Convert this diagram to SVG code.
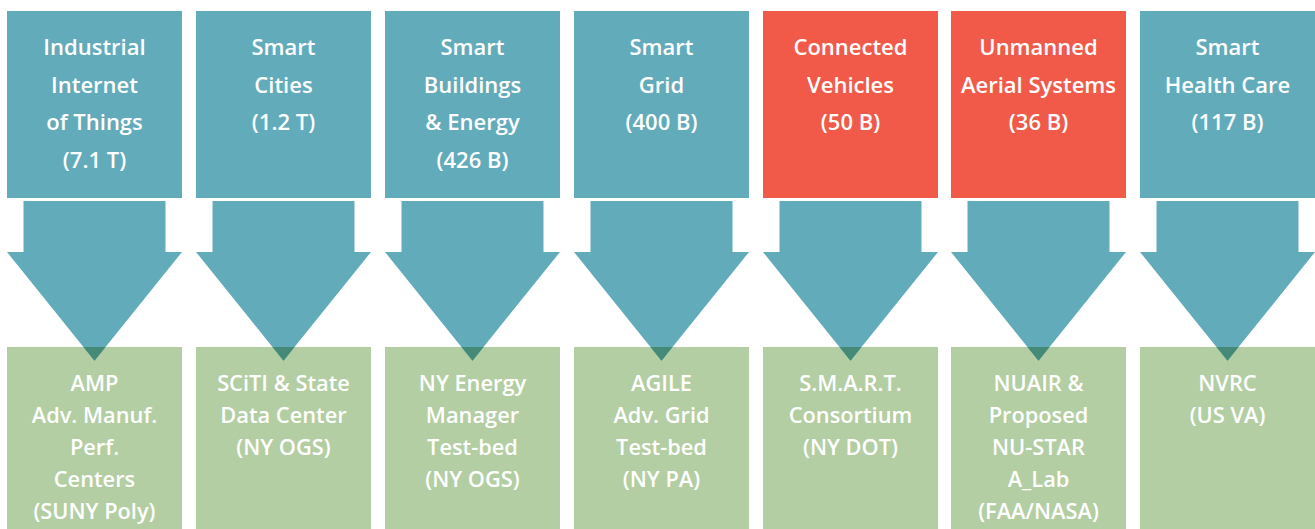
<svg xmlns="http://www.w3.org/2000/svg" width="1315" height="529" viewBox="0 0 1315 529">
<style>
.bg{fill:#ffffff}
.teal{fill:#62abbb}
.red{fill:#f15a48}
.green{fill:#b3cea2}
.arrow{fill:#62abbb}
.overlap{fill:#448a77}
.t{font-family:"Open Sans","Liberation Sans",sans-serif;font-weight:600;fill:#ffffff;text-anchor:middle}
.top{font-size:22px}
.bot{font-size:21.8px}
</style>
<rect class="bg" x="0" y="0" width="1315" height="529"/>
<defs>
<path id="arr" d="M16.5,201 H158.5 V252 H175 L87.5,360.7 L0,252 H16.5 Z"/>
<path id="ov" d="M76.5,347 H98.5 L87.5,360.7 Z"/>
</defs>

<g id="market-iiot">
<rect class="teal" x="7" y="11" width="175" height="187"/>
<text class="t top" x="94.5" y="55">Industrial</text>
<text class="t top" x="94.5" y="92.5">Internet</text>
<text class="t top" x="94.5" y="130">of Things</text>
<text class="t top" x="94.5" y="167.5">(7.1 T)</text>
</g>
<g id="market-cities">
<rect class="teal" x="196" y="11" width="175" height="187"/>
<text class="t top" x="283.5" y="55">Smart</text>
<text class="t top" x="283.5" y="92.5">Cities</text>
<text class="t top" x="283.5" y="130">(1.2 T)</text>
</g>
<g id="market-buildings">
<rect class="teal" x="385" y="11" width="175" height="187"/>
<text class="t top" x="472.5" y="55">Smart</text>
<text class="t top" x="472.5" y="92.5">Buildings</text>
<text class="t top" x="472.5" y="130">&amp; Energy</text>
<text class="t top" x="472.5" y="167.5">(426 B)</text>
</g>
<g id="market-grid">
<rect class="teal" x="574" y="11" width="175" height="187"/>
<text class="t top" x="661.5" y="55">Smart</text>
<text class="t top" x="661.5" y="92.5">Grid</text>
<text class="t top" x="661.5" y="130">(400 B)</text>
</g>
<g id="market-vehicles">
<rect class="red" x="763" y="11" width="175" height="187"/>
<text class="t top" x="850.5" y="55">Connected</text>
<text class="t top" x="850.5" y="92.5">Vehicles</text>
<text class="t top" x="850.5" y="130">(50 B)</text>
</g>
<g id="market-uas">
<rect class="red" x="951" y="11" width="175" height="187"/>
<text class="t top" x="1038.5" y="55">Unmanned</text>
<text class="t top" x="1038.5" y="92.5">Aerial Systems</text>
<text class="t top" x="1038.5" y="130">(36 B)</text>
</g>
<g id="market-health">
<rect class="teal" x="1140" y="11" width="175" height="187"/>
<text class="t top" x="1227.5" y="55">Smart</text>
<text class="t top" x="1227.5" y="92.5">Health Care</text>
<text class="t top" x="1227.5" y="130">(117 B)</text>
</g>

<g id="center-amp">
<rect class="green" x="7" y="347" width="175" height="182"/>
<text class="t bot" x="94.5" y="391">AMP</text>
<text class="t bot" x="94.5" y="423">Adv. Manuf.</text>
<text class="t bot" x="94.5" y="455">Perf.</text>
<text class="t bot" x="94.5" y="487">Centers</text>
<text class="t bot" x="94.5" y="519">(SUNY Poly)</text>
</g>
<g id="center-sciti">
<rect class="green" x="196" y="347" width="175" height="182"/>
<text class="t bot" x="283.5" y="391">SCiTI &amp; State</text>
<text class="t bot" x="283.5" y="423">Data Center</text>
<text class="t bot" x="283.5" y="455">(NY OGS)</text>
</g>
<g id="center-energy">
<rect class="green" x="385" y="347" width="175" height="182"/>
<text class="t bot" x="472.5" y="391">NY Energy</text>
<text class="t bot" x="472.5" y="423">Manager</text>
<text class="t bot" x="472.5" y="455">Test-bed</text>
<text class="t bot" x="472.5" y="487">(NY OGS)</text>
</g>
<g id="center-agile">
<rect class="green" x="574" y="347" width="175" height="182"/>
<text class="t bot" x="661.5" y="391">AGILE</text>
<text class="t bot" x="661.5" y="423">Adv. Grid</text>
<text class="t bot" x="661.5" y="455">Test-bed</text>
<text class="t bot" x="661.5" y="487">(NY PA)</text>
</g>
<g id="center-smart">
<rect class="green" x="763" y="347" width="175" height="182"/>
<text class="t bot" x="850.5" y="391">S.M.A.R.T.</text>
<text class="t bot" x="850.5" y="423">Consortium</text>
<text class="t bot" x="850.5" y="455">(NY DOT)</text>
</g>
<g id="center-nuair">
<rect class="green" x="951" y="347" width="175" height="182"/>
<text class="t bot" x="1038.5" y="391">NUAIR &amp;</text>
<text class="t bot" x="1038.5" y="423">Proposed</text>
<text class="t bot" x="1038.5" y="455">NU-STAR</text>
<text class="t bot" x="1038.5" y="487">A_Lab</text>
<text class="t bot" x="1038.5" y="519">(FAA/NASA)</text>
</g>
<g id="center-nvrc">
<rect class="green" x="1140" y="347" width="175" height="182"/>
<text class="t bot" x="1227.5" y="391">NVRC</text>
<text class="t bot" x="1227.5" y="423">(US VA)</text>
</g>

<g id="connectors">
<use href="#arr" class="arrow" x="7"/>
<use href="#arr" class="arrow" x="196"/>
<use href="#arr" class="arrow" x="385"/>
<use href="#arr" class="arrow" x="574"/>
<use href="#arr" class="arrow" x="763"/>
<use href="#arr" class="arrow" x="951"/>
<use href="#arr" class="arrow" x="1140"/>
<use href="#ov" class="overlap" x="7"/>
<use href="#ov" class="overlap" x="196"/>
<use href="#ov" class="overlap" x="385"/>
<use href="#ov" class="overlap" x="574"/>
<use href="#ov" class="overlap" x="763"/>
<use href="#ov" class="overlap" x="951"/>
<use href="#ov" class="overlap" x="1140"/>
</g>
</svg>
